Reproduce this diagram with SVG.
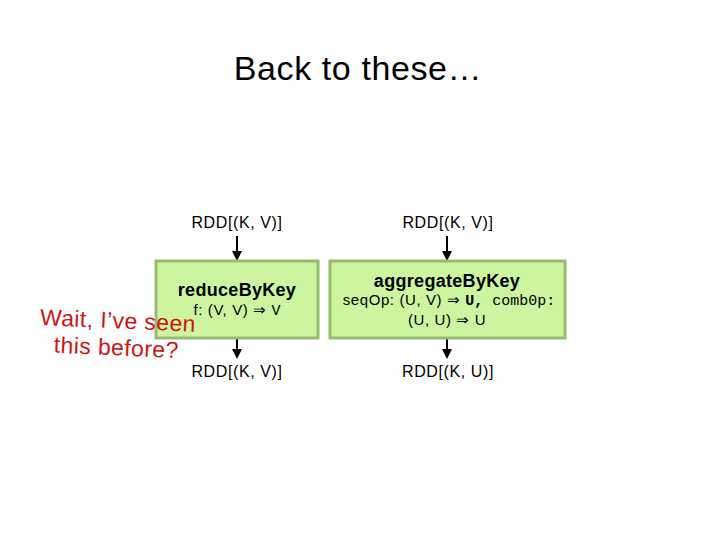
<svg xmlns="http://www.w3.org/2000/svg" width="720" height="540" viewBox="0 0 720 540">
<defs>
<marker id="ah" markerWidth="10" markerHeight="10" refX="5" refY="5" orient="auto" markerUnits="userSpaceOnUse">
<path d="M0,0 L10,5 L0,10 Z" fill="#000"/>
</marker>
<style>
.t{font-family:"Liberation Sans",Arial,sans-serif;fill:#000}
.lbl{font-size:16px;letter-spacing:0.6px;text-anchor:middle}
.box{fill:#cdf59f;stroke:#97bc70;stroke-width:3}
.op{font-size:18px;font-weight:bold;text-anchor:middle;letter-spacing:0.3px}
.sig{font-size:15px;letter-spacing:0.6px;text-anchor:middle}
.mono{font-family:"Liberation Mono","Courier New",monospace;letter-spacing:0}
.red{font-family:"Liberation Sans",Arial,sans-serif;font-size:23px;letter-spacing:0.4px;fill:#cc1515}
</style>
</defs>
<rect width="720" height="540" fill="#fff"/>
<text class="t" x="358" y="80" font-size="34" letter-spacing="0.6" text-anchor="middle">Back to these…</text>
<g id="connectors" stroke="#000" stroke-width="2">
<line x1="237" y1="236" x2="237" y2="256" marker-end="url(#ah)"/>
<line x1="447" y1="236" x2="447" y2="256" marker-end="url(#ah)"/>
<line x1="237" y1="339" x2="237" y2="354" marker-end="url(#ah)"/>
<line x1="447" y1="339" x2="447" y2="354" marker-end="url(#ah)"/>
</g>
<g id="in1"><text class="t lbl" x="237" y="228">RDD[(K, V)]</text></g>
<g id="in2"><text class="t lbl" x="448" y="228">RDD[(K, V)]</text></g>
<g id="reduceByKey">
<rect class="box" x="156" y="261" width="162" height="77"/>
<text class="t op" x="237" y="296">reduceByKey</text>
<text class="t sig" x="237" y="315">f: (V, V) ⇒ <tspan class="mono">V</tspan></text>
</g>
<g id="aggregateByKey">
<rect class="box" x="330" y="261" width="235" height="77"/>
<text class="t op" x="447" y="287">aggregateByKey</text>
<text class="t sig" x="449" y="305">seqOp: (U, V) ⇒ <tspan class="mono" font-weight="bold">U,</tspan><tspan class="mono"> comb0p:</tspan></text>
<text class="t sig" x="447" y="325">(U, U) ⇒ U</text>
</g>
<g id="out1"><text class="t lbl" x="237" y="377">RDD[(K, V)]</text></g>
<g id="out2"><text class="t lbl" x="448" y="377">RDD[(K, U)]</text></g>
<g id="note" transform="rotate(2.5 40 318)">
<text class="red" x="40" y="325">Wait, I’ve seen</text>
<text class="red" x="55" y="352">this before?</text>
</g>
</svg>
